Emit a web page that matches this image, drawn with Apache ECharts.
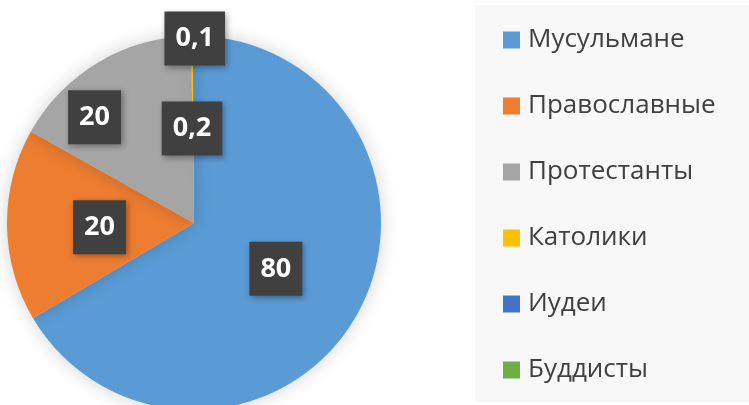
<!DOCTYPE html>
<html>
	<head>
		<meta charset="UTF-8">
		<script src="https://cdn.jsdelivr.net/npm/echarts@6/dist/echarts.min.js"></script>
		<title></title>
		<style>
			html, body { margin: 0; padding: 0; background: #fff; }
		</style>
	</head>
	<body>
		<div id="main" style="width:749px;height:405px;"></div>
	</body>
	<script>
		var names = ['Мусульмане', 'Православные', 'Протестанты', 'Католики', 'Иудеи', 'Буддисты'];
		var values = [80, 20, 20, 0.2, 0.1, 0];
		var colors = ['#5B9BD5', '#ED7D31', '#A5A5A5', '#FFC000', '#4472C4', '#70AD47'];
		// label nudges (px) so the boxes sit where Excel's "best fit" put them
		var labelDx = [-2, 2, -50, -1, 1, 0];
		var labelDy = [-2, 3, -23, 2, -88, 0];

		var data = [];
		for (var i = 0; i < names.length; i++) {
			var item = { name: names[i], value: values[i], itemStyle: { color: colors[i] } };
			if (values[i] === 0) item.label = { show: false };
			data.push(item);
		}

		var myChart = echarts.init(document.getElementById('main'));
		myChart.setOption({
			animation: false,
			legend: {
				orient: 'vertical',
				left: 475,
				top: 5,
				padding: [22, 60, 19, 28],
				backgroundColor: '#f8f8f8',
				icon: 'rect',
				itemWidth: 17,
				itemHeight: 17,
				itemGap: 40,
				textStyle: {
					fontFamily: 'Open Sans',
					fontSize: 26,
					color: '#404040',
					padding: [0, 0, 0, 3]
				},
				data: names
			},
			series: [
				{
					type: 'pie',
					center: [194, 223],
					radius: 187,
					startAngle: 90,
					clockwise: true,
					data: data,
					itemStyle: {
						shadowBlur: 18,
						shadowColor: 'rgba(0,0,0,0.18)'
					},
					label: {
						position: 'inside',
						formatter: function (p) { return String(p.value).replace('.', ','); },
						fontFamily: 'Open Sans',
						fontWeight: 'bold',
						fontSize: 27,
						color: '#fff',
						backgroundColor: '#404040',
						padding: [11, 11, 9, 11],
						lineHeight: 34,
						shadowBlur: 6,
						shadowOffsetX: 2,
						shadowOffsetY: 2,
						shadowColor: 'rgba(0,0,0,0.35)'
					},
					labelLine: { show: false },
					labelLayout: function (params) {
						return { dx: labelDx[params.dataIndex], dy: labelDy[params.dataIndex] };
					}
				}
			]
		});
	</script>
</html>
